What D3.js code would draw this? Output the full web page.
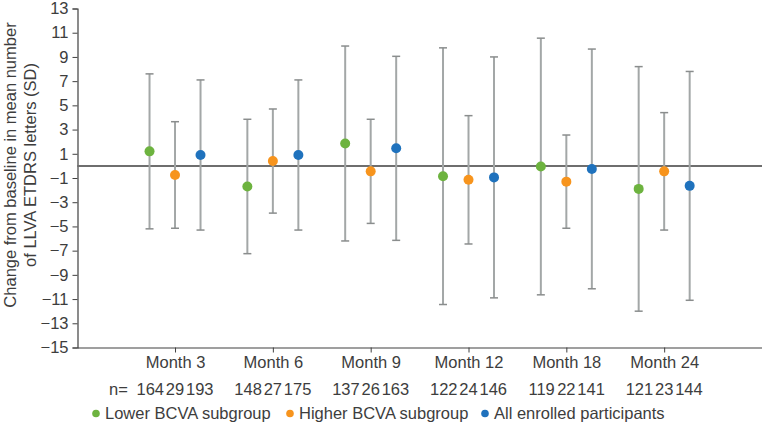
<!DOCTYPE html>
<html><head><meta charset="utf-8">
<script src="https://cdn.jsdelivr.net/npm/d3@7"></script>
<style>body{margin:0;background:#fff}svg{display:block}text{font-family:"Liberation Sans",Arial,sans-serif}</style>
</head><body><svg id="c" width="762" height="425"></svg>
<script>
const months = ["Month 3","Month 6","Month 9","Month 12","Month 18","Month 24"];
const seriesNames = ["Lower BCVA subgroup","Higher BCVA subgroup","All enrolled participants"];
const seriesColors = ["#6db33f","#f7941d","#1f72bd"];
const lowerMean = [1.2,-1.7,1.85,-0.85,-0.05,-1.9];
const lowerSD   = [6.4,5.55,8.05,10.6,10.6,10.1];
const higherMean = [-0.75,0.4,-0.45,-1.15,-1.3,-0.45];
const higherSD   = [4.4,4.3,4.3,5.3,3.85,4.85];
const allMean = [0.9,0.9,1.45,-0.95,-0.25,-1.65];
const allSD   = [6.2,6.2,7.6,9.95,9.9,9.45];
const lowerN = [164,148,137,122,119,121];
const higherN = [29,27,26,24,22,23];
const allN = [193,175,163,146,141,144];
const yTicks = d3.range(-15,14,2);

const means=[lowerMean,higherMean,allMean], sds=[lowerSD,higherSD,allSD], ns=[lowerN,higherN,allN];
const svg=d3.select("#c");
const x=d3.scaleLinear().domain([0,7]).range([77.2,762]);
const y=d3.scaleLinear().domain([-15,13]).range([347.5,8.5]);
const off=d3.scalePoint().domain(seriesNames).range([-25.5,25.5]);
const txt="#3d3d3d", fs="16.5px";

// y axis
const ya=svg.append("g").attr("transform","translate(77.5,0)")
  .call(d3.axisLeft(y).tickValues(yTicks).tickSize(5).tickPadding(4).tickFormat(d=>d<0?"\u2212"+Math.abs(d):d));
ya.select(".domain").attr("stroke","#404040").attr("stroke-width",1.2);
ya.selectAll(".tick line").attr("stroke","#404040");
ya.selectAll(".tick text").attr("fill",txt).style("font-size",fs).style("font-family","'Liberation Sans',Arial,sans-serif");

// x axis
const xa=svg.append("g").attr("transform","translate(0,347.5)")
  .call(d3.axisBottom(x).tickValues(d3.range(1,7)).tickSize(5).tickSizeOuter(0).tickPadding(4).tickFormat(d=>months[d-1]));
xa.select(".domain").attr("stroke","#404040").attr("stroke-width",1.2);
xa.selectAll(".tick line").attr("stroke","#404040");
xa.selectAll(".tick text").attr("fill",txt).style("font-size",fs).style("font-family","'Liberation Sans',Arial,sans-serif");

// zero line
svg.append("line").attr("x1",x(0)).attr("x2",762).attr("y1",y(0)).attr("y2",y(0))
  .attr("stroke","#6e6e6e").attr("stroke-width",2);

// error bars and points
seriesNames.forEach((s,si)=>{
  const g=svg.append("g");
  months.forEach((m,i)=>{
    const cx=x(i+1)+off(s), hi=y(means[si][i]+sds[si][i]), lo=y(means[si][i]-sds[si][i]);
    g.append("line").attr("x1",cx).attr("x2",cx).attr("y1",hi).attr("y2",lo).attr("stroke","#a3a7a7").attr("stroke-width",2);
    [hi,lo].forEach(v=>g.append("line").attr("x1",cx-4).attr("x2",cx+4).attr("y1",v).attr("y2",v).attr("stroke","#8a8d8d").attr("stroke-width",1.5));
  });
  g.selectAll("circle").data(means[si]).join("circle")
    .attr("cx",(d,i)=>x(i+1)+off(s)).attr("cy",d=>y(d)).attr("r",5).attr("fill",seriesColors[si]);
});

// n row
svg.append("text").attr("x",109).attr("y",395).attr("fill",txt).style("font-size",fs).text("n=");
seriesNames.forEach((s,si)=>{
  svg.append("g").selectAll("text").data(ns[si]).join("text")
    .attr("x",(d,i)=>x(i+1)+off(s)*0.97).attr("y",395).attr("text-anchor","middle")
    .attr("fill",txt).style("font-size",fs).text(d=>d);
});

// legend
const legX=[96,290,485];
seriesNames.forEach((s,si)=>{
  svg.append("circle").attr("cx",legX[si]).attr("cy",413.5).attr("r",3.8).attr("fill",seriesColors[si]);
  svg.append("text").attr("x",legX[si]+9).attr("y",419).attr("fill",txt).style("font-size",fs).text(s);
});

// y title
const yt=svg.append("text").attr("transform","translate(0,165) rotate(-90)").attr("text-anchor","middle")
  .attr("fill",txt).style("font-size",fs);
yt.append("tspan").attr("x",0).attr("y",16).text("Change from baseline in mean number");
yt.append("tspan").attr("x",0).attr("y",36).text("of LLVA ETDRS letters (SD)");
</script></body></html>
